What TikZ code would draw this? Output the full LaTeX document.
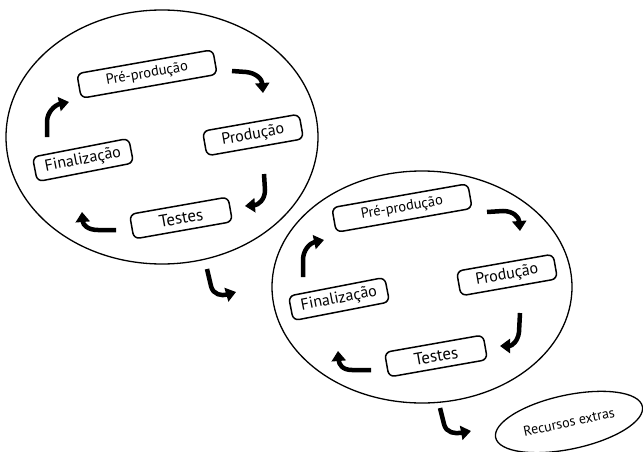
\documentclass[tikz,border=0pt]{standalone}
\usepackage{fontspec}
\setmainfont{PT Sans}
\usetikzlibrary{shapes.geometric,arrows.meta}
\begin{document}
\begin{tikzpicture}[x=1pt,y=-1pt,
  box/.style={draw, line width=1.5pt, rounded corners=6pt, minimum height=25pt, inner sep=0pt, font=\fontsize{16}{16}\selectfont},
  cyc/.style={draw, ellipse, line width=1.3pt, inner sep=0pt},
  harrow/.style={line width=4.5pt, -{Triangle[length=10pt,width=14pt]}}]
\useasboundingbox (0,0) rectangle (643,452);
% big ellipses
\node[cyc, minimum width=312pt, minimum height=254pt] (c1) at (162,137) {};
\node[cyc, minimum width=300pt, minimum height=232pt] (c2) at (422,287) {};
% cycle 1
\node[box, minimum width=138pt, rotate=10, font=\fontsize{14.5}{14.5}\selectfont] (pre1) at (147,74) {Pré-produção};
\node[box, minimum width=98pt, rotate=10] (prod1) at (253,135) {Produção};
\node[box, minimum width=98pt, rotate=11] (fin1) at (83,160) {Finalização};
\node[box, minimum width=100pt, rotate=10, font=\fontsize{17}{17}\selectfont] (tes1) at (181,218) {Testes};
% cycle 2
\node[box, minimum width=138pt, rotate=10, font=\fontsize{14.5}{14.5}\selectfont] (pre2) at (402,208) {Pré-produção};
\node[box, minimum width=98pt, rotate=10] (prod2) at (507,275) {Produção};
\node[box, minimum width=98pt, rotate=11] (fin2) at (339,299) {Finalização};
\node[box, minimum width=100pt, rotate=10, font=\fontsize{17}{17}\selectfont] (tes2) at (436,356) {Testes};
% extra
\node[cyc, minimum width=150pt, minimum height=54pt, rotate=12, font=\fontsize{14}{14}\selectfont] (rec) at (569,422) {Recursos extras};
% arrow coordinates
\coordinate (a1s) at (232,71);  \coordinate (a1t) at (263,93);
\coordinate (a2s) at (264,174); \coordinate (a2t) at (245,206);
\coordinate (a3s) at (116,230); \coordinate (a3t) at (82,212);
\coordinate (a4s) at (47,137);  \coordinate (a4t) at (69,102);
\coordinate (b1s) at (487,212); \coordinate (b1t) at (520,231);
\coordinate (b2s) at (520,313); \coordinate (b2t) at (500,346);
\coordinate (b3s) at (371,370); \coordinate (b3t) at (338,351);
\coordinate (b4s) at (303,277); \coordinate (b4t) at (324,240);
\coordinate (xs) at (207,269);  \coordinate (xt) at (236,292);
\coordinate (rs) at (440,408);  \coordinate (rt) at (471,431);
% arrows cycle 1
\draw[harrow] (a1s) -- (246,72) .. controls (256,73) and (262,79) .. (a1t);
\draw[harrow] (a2s) -- (265,190) .. controls (265,200) and (258,205) .. (a2t);
\draw[harrow] (a3s) -- (98,230) .. controls (88,230) and (83,225) .. (a3t);
\draw[harrow] (a4s) -- (47,122) .. controls (47,112) and (55,105) .. (a4t);
% arrows cycle 2
\draw[harrow] (b1s) -- (503,211) .. controls (513,211) and (519,217) .. (b1t);
\draw[harrow] (b2s) -- (519,332) .. controls (518,341) and (512,346) .. (b2t);
\draw[harrow] (b3s) -- (352,370) .. controls (342,370) and (339,364) .. (b3t);
\draw[harrow] (b4s) -- (303,260) .. controls (303,250) and (310,243) .. (b4t);
% arrows between
\draw[harrow] (xs) -- (211,286) .. controls (213,295) and (222,296) .. (xt);
\draw[harrow] (rs) -- (444,424) .. controls (446,433) and (455,434) .. (rt);
\end{tikzpicture}
\end{document}
